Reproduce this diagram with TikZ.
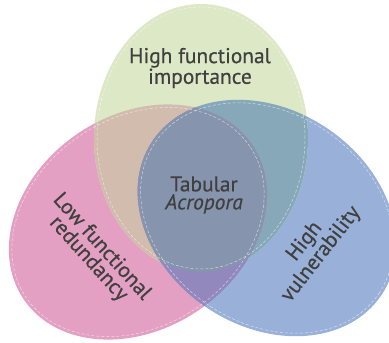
\documentclass[tikz,border=0pt]{standalone}
\usepackage{fontspec}
\setmainfont{PT Sans}
\newfontfamily\lblfont{PT Sans}[BoldFont={PT Sans}, BoldItalicFont={PT Sans Italic}, BoldFeatures={FakeBold=0.5}, BoldItalicFeatures={FakeBold=0.5}]
\definecolor{cgreen}{HTML}{DCE8C6}
\definecolor{cpink}{HTML}{E4A0C3}
\definecolor{cblue}{HTML}{99B1D8}
\definecolor{cbeige}{HTML}{D2BCAE}
\definecolor{cteal}{HTML}{86A8B9}
\definecolor{cpurple}{HTML}{9388BD}
\definecolor{ccenter}{HTML}{8794AD}
\definecolor{ctext}{HTML}{404040}
\tikzset{
  pinkrot/.style={rotate around={34:(138,222)}},
  pinkunrot/.style={rotate around={-34:(138,222)}},
  bluerot/.style={rotate around={-34:(267,218)}},
  blueunrot/.style={rotate around={34:(267,218)}},
  inner/.style={draw=white, draw opacity=0.6, line width=0.5pt, dash pattern=on 3pt off 2pt},
  lbl/.style={font=\lblfont\bfseries\fontsize{21.4}{18}\selectfont, text=ctext, align=center, inner sep=0pt}
}
\newcommand\PinkE{(138,222) ellipse [x radius=138pt, y radius=107pt]}
\newcommand\BlueE{(267,218) ellipse [x radius=138pt, y radius=108pt]}
\newcommand\GreenE{(201,138) ellipse [x radius=107pt, y radius=134pt]}
\begin{document}
\begin{tikzpicture}[x=1pt,y=-1pt]
\clip (0,0) rectangle (389,343);
\fill[white] (0,0) rectangle (389,343);
% base shapes
\begin{scope}[pinkrot]\fill[cpink] \PinkE;\end{scope}
\begin{scope}[bluerot]\fill[cblue] \BlueE;\end{scope}
\fill[cgreen] \GreenE;
% green & blue
\begin{scope}[bluerot]
  \clip \BlueE;
  \begin{scope}[blueunrot]\fill[cteal] \GreenE;\end{scope}
\end{scope}
% pink overlaps
\begin{scope}[pinkrot]
  \clip \PinkE;
  \begin{scope}[pinkunrot]
    \fill[cbeige] \GreenE;
    \begin{scope}[bluerot]
      \clip \BlueE;
      \fill[cpurple] \BlueE;
      \begin{scope}[blueunrot]\fill[ccenter] \GreenE;\end{scope}
    \end{scope}
  \end{scope}
\end{scope}
% inner dashed outlines
\begin{scope}[pinkrot]\path[inner] (138,222) ellipse [x radius=135pt, y radius=104pt];\end{scope}
\begin{scope}[bluerot]\path[inner] (267,218) ellipse [x radius=135pt, y radius=105pt];\end{scope}
\path[inner] (201,138) ellipse [x radius=104pt, y radius=131pt];
% labels
\node[lbl] (imp) at (200,68) {High functional\\importance};
\node[lbl] (tab) at (204,195) {Tabular\\\textit{Acropora}};
\node[lbl, rotate=-48] (red) at (95,253) {Low functional\\redundancy};
\node[lbl, rotate=52] (vul) at (313,248) {High\\vulnerability};
\end{tikzpicture}
\end{document}
